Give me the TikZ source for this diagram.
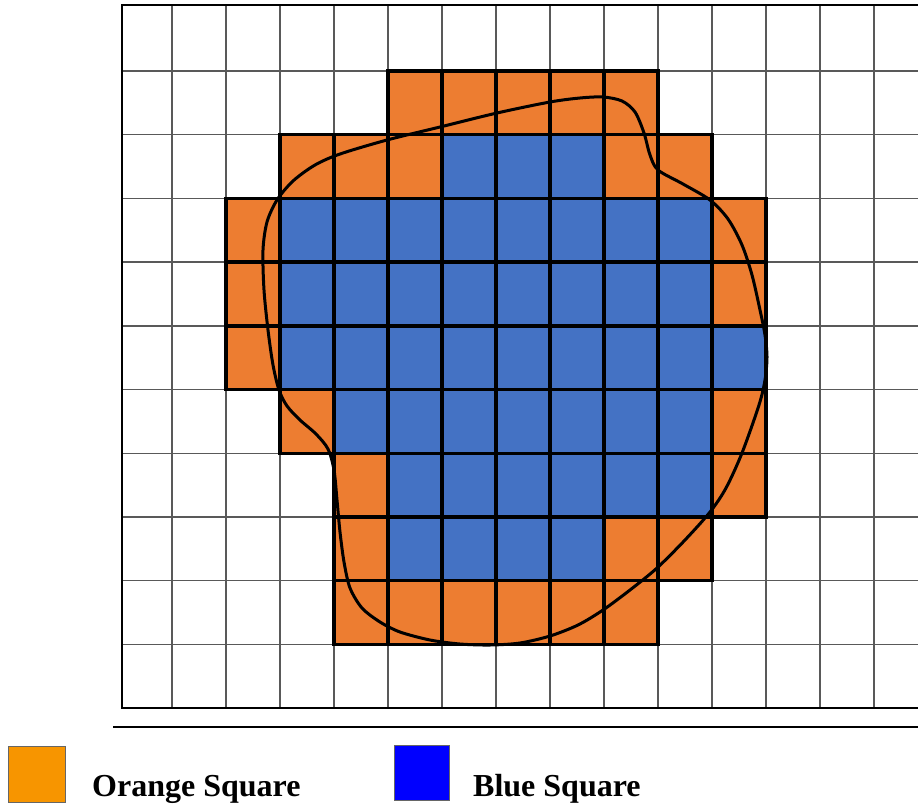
\documentclass[tikz,border=0pt]{standalone}
\usepackage{fontspec}
\setmainfont{Liberation Serif}
\definecolor{cellorange}{HTML}{ED7D31}
\definecolor{cellblue}{HTML}{4472C4}
\definecolor{legorange}{HTML}{F79500}
\definecolor{legblue}{HTML}{0000FF}
\tikzset{
  gridline/.style={draw=black!65, line width=1.4pt},
  borderline/.style={draw=black, line width=2.5pt},
  cellbox/.style={draw=black, line width=3.4pt},
  legbox/.style={draw=black!60, line width=0.8pt},
  legtext/.style={font=\fontsize{32}{36}\selectfont\bfseries, anchor=base west, inner sep=0pt},
  blob/.style={draw=black, line width=3pt}
}
\newcommand\mycell[3]{\filldraw[cellbox, fill=#3] ({118+54*#1},{71+63.7*(#2-1)}) rectangle ({172+54*#1},{71+63.7*#2});}
\begin{document}
\begin{tikzpicture}[x=1pt, y=-1pt]
\useasboundingbox (0,0) rectangle (918,803);
\fill[white] (0,0) rectangle (918,803);
% thin grid
\foreach \k in {1,...,14} {
  \draw[gridline] ({118+54*\k},5) -- ({118+54*\k},708);
}
\foreach \r in {1,...,10} {
  \draw[gridline] (122,{71+63.7*(\r-1)}) -- (918,{71+63.7*(\r-1)});
}
% coloured cells
\foreach \c in {5,...,9} {\mycell{\c}{1}{cellorange}}
\foreach \c in {3,4,5,9,10} {\mycell{\c}{2}{cellorange}}
\foreach \c in {6,7,8} {\mycell{\c}{2}{cellblue}}
\foreach \r in {3,4} {
  \mycell{2}{\r}{cellorange}
  \foreach \c in {3,...,10} {\mycell{\c}{\r}{cellblue}}
  \mycell{11}{\r}{cellorange}
}
\mycell{2}{5}{cellorange}
\foreach \c in {3,...,11} {\mycell{\c}{5}{cellblue}}
\mycell{3}{6}{cellorange}
\foreach \c in {4,...,10} {\mycell{\c}{6}{cellblue}}
\mycell{11}{6}{cellorange}
\mycell{4}{7}{cellorange}
\foreach \c in {5,...,10} {\mycell{\c}{7}{cellblue}}
\mycell{11}{7}{cellorange}
\mycell{4}{8}{cellorange}
\foreach \c in {5,...,8} {\mycell{\c}{8}{cellblue}}
\mycell{9}{8}{cellorange}
\mycell{10}{8}{cellorange}
\foreach \c in {4,...,9} {\mycell{\c}{9}{cellorange}}
% outer border
\draw[borderline] (918,5) -- (122,5) -- (122,708) -- (918,708);
% blob
\draw[blob] plot[smooth cycle, tension=0.5] coordinates {
  (263,250) (267,222) (277,200) (293,181) (315,165) (340,154) (387,140)
  (440,127) (497,113) (550,102) (580,98) (603,97) (622,101) (635,112)
  (644,133) (650,155) (658,170) (683,184) (710,200) (728,219) (742,245)
  (752,275) (760,310) (765,335) (767,357) (765,380) (759,405) (742,453)
  (726,488) (710,512) (685,540) (657,568) (630,590) (603,610) (578,625)
  (550,636) (520,643) (490,645) (460,644) (430,640) (400,632) (380,622)
  (362,608) (350,588) (344,562) (340,532) (337,500) (334,470) (328,449)
  (316,434) (300,420) (287,406) (279,390) (273,365) (268,330) (264,290)
};
% separator
\draw[line width=2.5pt] (113,727) -- (918,727);
% legend
\filldraw[legbox, fill=legorange] (8,746) rectangle (65,802);
\node[legtext] (lo) at (92,796) {Orange Square};
\filldraw[legbox, fill=legblue] (394,745) rectangle (449,800);
\node[legtext] (lb) at (473,796) {Blue Square};
\end{tikzpicture}
\end{document}
